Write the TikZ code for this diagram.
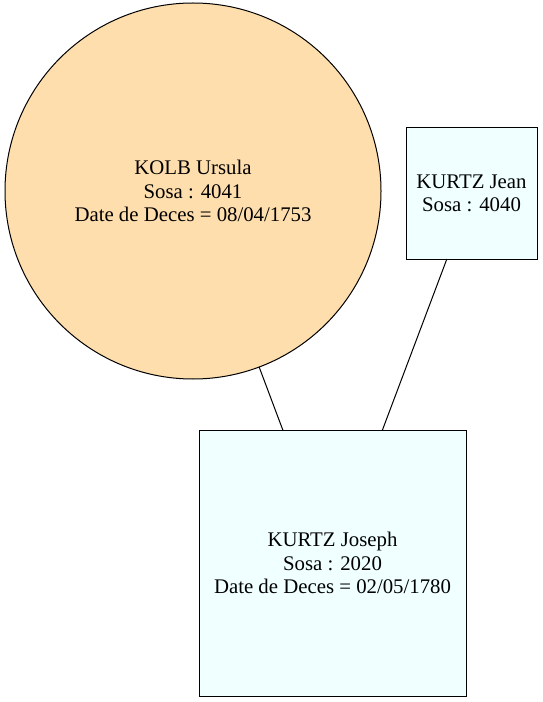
\documentclass[tikz,border=0pt]{standalone}
\usepackage{fontspec}
\setmainfont{Liberation Serif}
\definecolor{sosacirc}{HTML}{FFDEAD}
\definecolor{sosabox}{HTML}{F0FFFF}
\begin{document}
\begin{tikzpicture}[
  x=0.75pt, y=-0.75pt,
  sosaperson/.style = {draw=black, line width=0.75pt, inner sep=0pt, outer sep=0pt, align=center,
    font=\fontsize{15.6pt}{17.6pt}\selectfont},
  sosafemme/.style = {sosaperson, circle, fill=sosacirc, minimum size=282pt},
  sosahomme/.style = {sosaperson, rectangle, fill=sosabox},
  sosalink/.style = {black, line width=0.75pt}
]
  % cadre
  \useasboundingbox (0,0) rectangle (542,702);
  % personnes
  \node[sosafemme] (ursula) at (193,191) {KOLB Ursula\\Sosa : 4041\\Date de Deces = 08/04/1753};
  \node[sosahomme, minimum size=98.25pt] (jean) at (471.5,193.5) {KURTZ Jean\\Sosa : 4040};
  \node[sosahomme, minimum width=200.25pt, minimum height=199.5pt] (joseph) at (332.5,563) {KURTZ Joseph\\Sosa : 2020\\Date de Deces = 02/05/1780};
  % liens
  \draw[sosalink] (ursula) -- (joseph);
  \draw[sosalink] (jean) -- (joseph);
\end{tikzpicture}
\end{document}
